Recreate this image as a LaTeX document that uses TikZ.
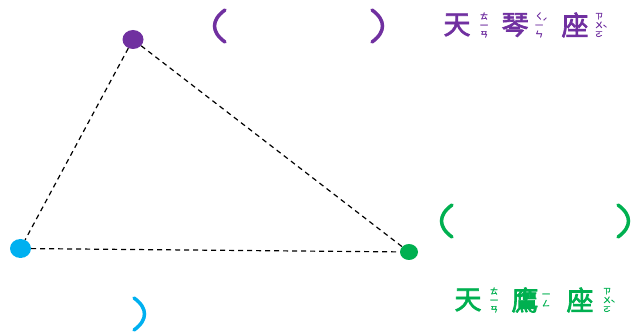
\documentclass[tikz,border=0pt]{standalone}
\usepackage{fontspec}
\newfontfamily\cjk[FakeBold=2.5]{Noto Sans CJK TC}
\newfontfamily\cjkzy[FakeBold=1.5]{Noto Sans CJK TC}
\usetikzlibrary{shapes.geometric}
\definecolor{lyra}{HTML}{7030A0}
\definecolor{aquila}{HTML}{00B050}
\definecolor{deneb}{HTML}{00B0F0}
\tikzset{
  star/.style={ellipse, inner sep=0pt, minimum width=21pt, minimum height=19pt},
  link/.style={dashed, line width=1.2pt, dash pattern=on 5pt off 4pt},
  paren/.style={line width=3.5pt, line cap=round},
  han/.style={font=\cjk\fontsize{27}{27}\selectfont, inner sep=0pt},
  zy/.style={font=\cjkzy\fontsize{8}{9}\selectfont, inner sep=0pt, align=center},
  tone/.style={font=\cjkzy\fontsize{8}{8}\selectfont, inner sep=0pt},
}
\begin{document}
\begin{tikzpicture}[x=1pt,y=-1pt]
\useasboundingbox (0,0) rectangle (641,334);
% stars
\node[star, fill=lyra] (vega) at (133,39.5) {};
\node[star, fill=deneb] (deneb) at (20.5,248.5) {};
\node[star, fill=aquila, minimum width=18pt, minimum height=16pt] (altair) at (409,252) {};
\draw[link] (vega) -- (deneb);
\draw[link] (vega) -- (altair);
\draw[link] (deneb) -- (altair);
% parentheses
\draw[paren, lyra] (225,10) .. controls (211,20) and (211,32) .. (225,42);
\draw[paren, lyra] (372,10) .. controls (386,20) and (386,32) .. (372,42);
\draw[paren, aquila] (452,205) .. controls (438,215) and (438,227) .. (452,237);
\draw[paren, aquila] (618,205) .. controls (632,215) and (632,227) .. (618,237);
\draw[paren, deneb] (134,298) .. controls (148,308) and (148,320) .. (134,330);
% Lyra label
\begin{scope}[lyra]
\node[han] (l1) at (457,25) {天};
\node[zy] (l1z) at (484,25) {ㄊ\\一\\ㄢ};
\node[han] (l2) at (515,25) {琴};
\node[zy] (l2z) at (539,25) {ㄑ\\一\\ㄣ};
\node[tone] (l2t) at (545,21) {ˊ};
\node[han] (l3) at (575,25) {座};
\node[zy] (l3z) at (599,25) {ㄗ\\ㄨ\\ㄛ};
\node[tone] (l3t) at (605,28) {ˋ};
\end{scope}
% Aquila label
\begin{scope}[aquila]
\node[han] (a1) at (468,300) {天};
\node[zy] (a1z) at (494,300) {ㄊ\\一\\ㄢ};
\node[han] (a2) at (525,300) {鷹};
\node[zy] (a2z) at (546,300) {一\\ㄥ};
\node[han] (a3) at (580,300) {座};
\node[zy] (a3z) at (607,300) {ㄗ\\ㄨ\\ㄛ};
\node[tone] (a3t) at (613,303) {ˋ};
\end{scope}
\end{tikzpicture}
\end{document}
